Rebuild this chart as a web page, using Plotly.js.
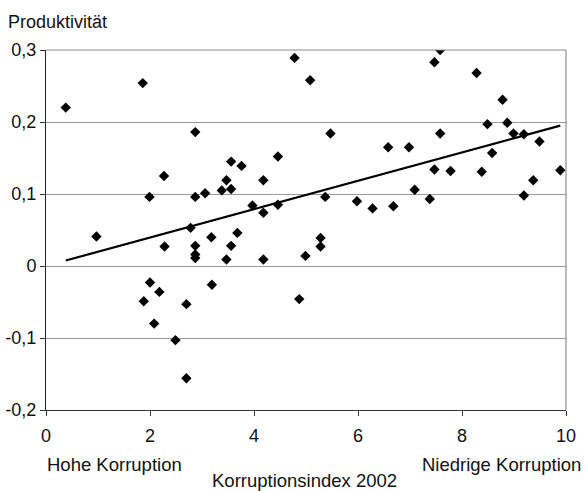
<!DOCTYPE html>
<html>
<head>
<meta charset="utf-8">
<script src="https://cdn.plot.ly/plotly-3.0.1.min.js"></script>
<style>html,body{margin:0;padding:0;background:#fff;}#chart{width:584px;height:491px;}</style>
</head>
<body>
<div id="chart"></div>
<script>
// Korruptionsindex 2002 (x) vs. Produktivität (y)
const korruptionsindex = [0.38, 0.97, 1.86, 1.88, 1.99, 2.00, 2.08, 2.18, 2.27, 2.28,
  2.49, 2.70, 2.70, 2.78, 2.87, 2.87, 2.87, 2.87, 2.87, 3.06,
  3.18, 3.19, 3.38, 3.47, 3.47, 3.56, 3.56, 3.56, 3.68, 3.76,
  3.97, 4.18, 4.18, 4.18, 4.46, 4.46, 4.78, 4.87, 4.99, 5.08,
  5.28, 5.28, 5.37, 5.47, 5.98, 6.28, 6.58, 6.68, 6.98, 7.09,
  7.38, 7.47, 7.47, 7.58, 7.58, 7.78, 8.28, 8.38, 8.49, 8.58,
  8.78, 8.87, 8.99, 9.19, 9.19, 9.37, 9.49, 9.89];
const produktivitaet = [0.220, 0.041, 0.254, -0.049, 0.096, -0.023, -0.080, -0.036, 0.125, 0.027,
  -0.103, -0.053, -0.156, 0.053, 0.186, 0.096, 0.028, 0.016, 0.011, 0.101,
  0.040, -0.026, 0.105, 0.119, 0.009, 0.145, 0.107, 0.028, 0.046, 0.139,
  0.084, 0.119, 0.074, 0.009, 0.152, 0.085, 0.289, -0.046, 0.014, 0.258,
  0.039, 0.027, 0.096, 0.184, 0.090, 0.080, 0.165, 0.083, 0.165, 0.106,
  0.093, 0.283, 0.134, 0.300, 0.184, 0.132, 0.268, 0.131, 0.197, 0.157,
  0.231, 0.199, 0.184, 0.183, 0.098, 0.119, 0.173, 0.133];
// Trendlinie (Endpunkte)
const trendX = [0.38, 9.89];
const trendY = [0.0076, 0.195];
// Achsenbeschriftungen
const xTickVals = [0, 2, 4, 6, 8, 10];
const xTickText = ["0", "2", "4", "6", "8", "10"];
const yTickVals = [-0.2, -0.1, 0, 0.1, 0.2, 0.3];
const yTickText = ["-0,2", "-0,1", "0", "0,1", "0,2", "0,3"];

const FONT = "Liberation Sans, Arial, Helvetica, sans-serif";

const traces = [
  {
    x: trendX, y: trendY, type: "scatter", mode: "lines",
    line: {color: "#000", width: 2.2}, hoverinfo: "skip", showlegend: false
  },
  {
    x: korruptionsindex, y: produktivitaet, type: "scatter", mode: "markers",
    marker: {symbol: "diamond", size: 8, color: "#000"}, showlegend: false
  }
];

const layout = {
  width: 584, height: 491,
  margin: {l: 46, r: 18, t: 49.5, b: 80.5, pad: 0},
  paper_bgcolor: "#fff", plot_bgcolor: "#fff",
  font: {family: FONT, size: 18, color: "#111"},
  showlegend: false,
  xaxis: {
    range: [0, 10], tickvals: xTickVals, ticktext: xTickText,
    ticks: "outside", ticklen: 5, tickcolor: "#333", tickwidth: 1,
    ticklabelstandoff: 4,
    showline: true, linecolor: "#333", linewidth: 1,
    showgrid: false, zeroline: false, fixedrange: true,
    tickfont: {family: FONT, size: 18, color: "#111"}
  },
  yaxis: {
    range: [-0.2, 0.3], tickvals: yTickVals, ticktext: yTickText,
    ticks: "outside", ticklen: 5, tickcolor: "#333", tickwidth: 1,
    showline: true, linecolor: "#222", linewidth: 1,
    showgrid: true, gridcolor: "#9a9a9a", gridwidth: 1,
    zeroline: false, fixedrange: true,
    tickfont: {family: FONT, size: 18, color: "#111"}
  },
  shapes: [
    {type: "line", xref: "paper", yref: "paper", x0: 1, x1: 1, y0: 0, y1: 1,
     line: {color: "#777", width: 1}},
    {type: "line", xref: "paper", yref: "paper", x0: 0, x1: 1, y0: 1, y1: 1,
     line: {color: "#888", width: 1}}
  ],
  annotations: [
    {text: "Produktivität", xref: "paper", yref: "paper", x: -0.077, y: 1.079,
     xanchor: "left", yanchor: "middle", showarrow: false,
     font: {family: FONT, size: 18, color: "#111"}},
    {text: "Hohe Korruption", xref: "paper", yref: "paper", x: -0.002, y: -0.151,
     xanchor: "left", yanchor: "middle", showarrow: false,
     font: {family: FONT, size: 18.5, color: "#111"}},
    {text: "Niedrige Korruption", xref: "paper", yref: "paper", x: 1.0325, y: -0.151,
     xanchor: "right", yanchor: "middle", showarrow: false,
     font: {family: FONT, size: 18.5, color: "#111"}},
    {text: "Korruptionsindex 2002", xref: "paper", yref: "paper", x: 0.498, y: -0.195,
     xanchor: "center", yanchor: "middle", showarrow: false,
     font: {family: FONT, size: 18.5, color: "#111"}}
  ]
};

Plotly.newPlot("chart", traces, layout, {displayModeBar: false, staticPlot: true});
</script>
</body>
</html>
